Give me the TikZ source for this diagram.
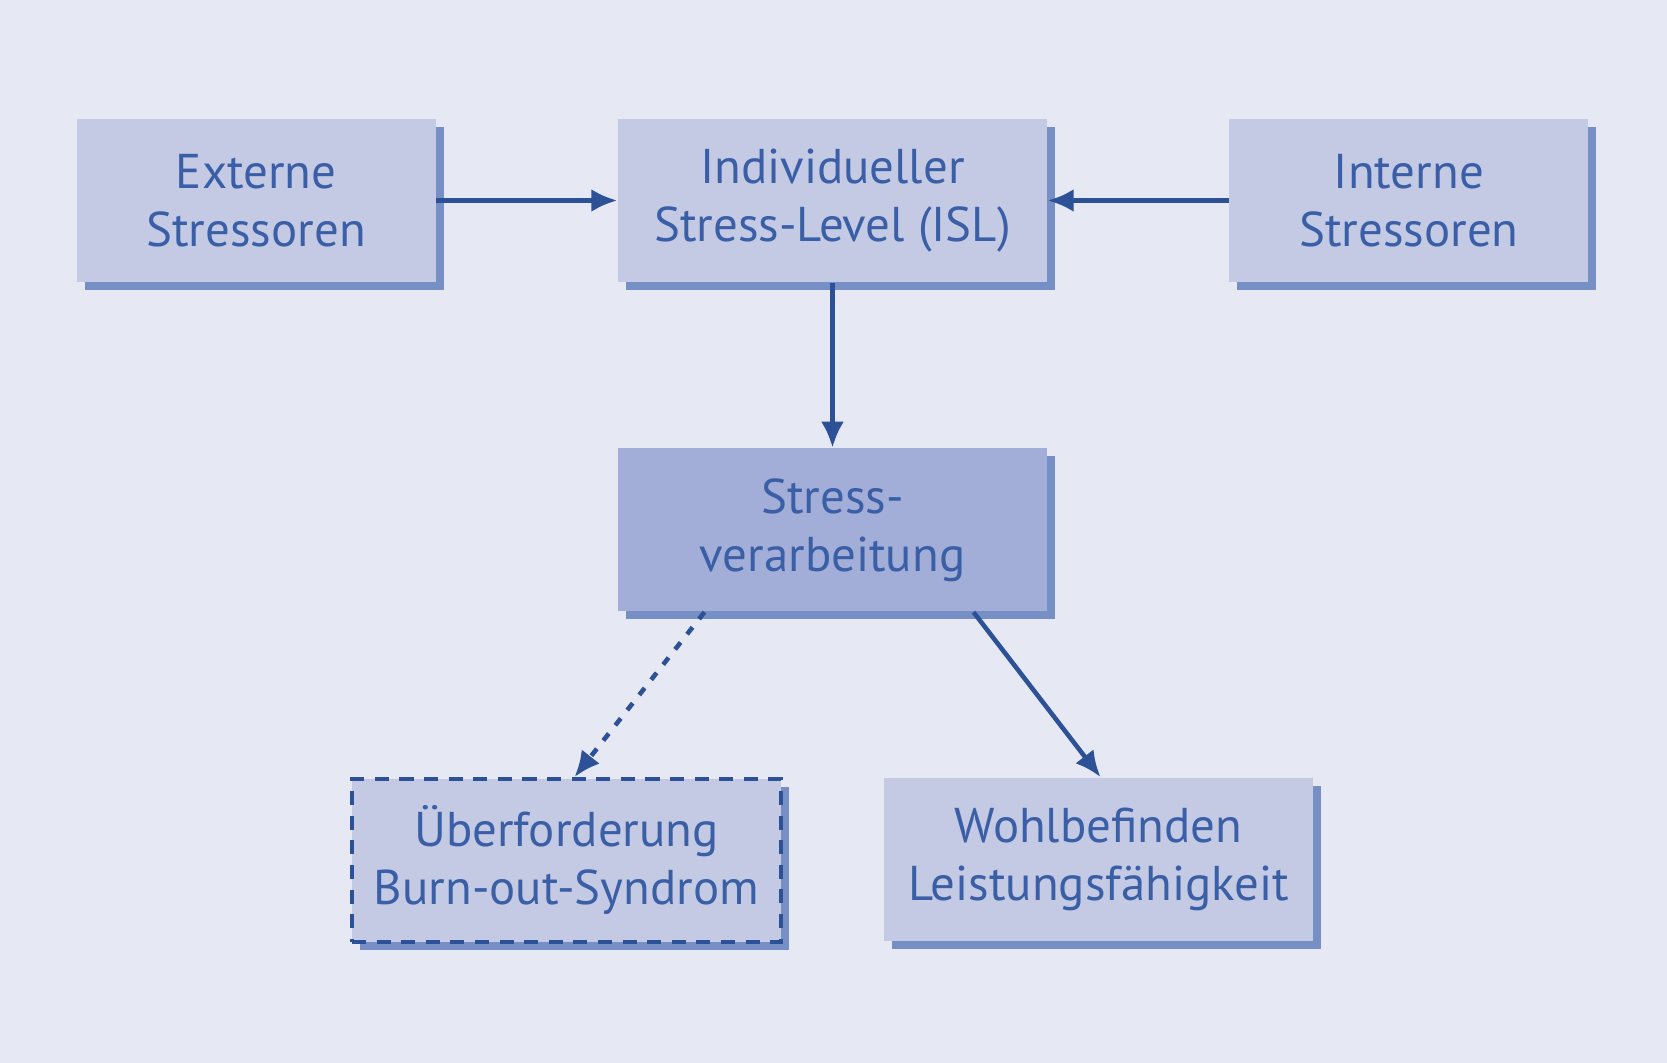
\documentclass[tikz,border=0pt]{standalone}
\usepackage{fontspec}
\setmainfont{PT Sans}
\usepackage{xcolor}
\usetikzlibrary{arrows.meta,positioning,shadows}

\definecolor{bgblue}{HTML}{E6E8F3}
\definecolor{boxblue}{HTML}{C4CAE4}
\definecolor{darkbox}{HTML}{A2AED7}
\definecolor{shadeblue}{HTML}{6A86BF}
\definecolor{inkblue}{HTML}{3A5FA6}
\definecolor{lineblue}{HTML}{2D5197}

\begin{document}
\begin{tikzpicture}[x=1cm,y=1cm,
  node distance=16.5mm and 18.1mm,
  stage/.style={fill=boxblue,minimum width=4.29cm,minimum height=1.63cm,
    align=center,inner sep=0pt,text=inkblue,
    font=\fontsize{13.9pt}{16.5pt}\selectfont,
    drop shadow={shadow xshift=.8mm,shadow yshift=-.8mm,fill=shadeblue,opacity=.9}},
  source/.style={stage,minimum width=3.59cm},
  core/.style={stage,fill=darkbox},
  risk/.style={stage,draw=lineblue,line width=1pt,dash pattern=on 4pt off 3pt},
  link/.style={-{Latex[length=2.6mm,width=2.3mm]},draw=lineblue,line width=1.3pt}]
\fill[bgblue] (0,0) rectangle (16.67,-10.63);
\useasboundingbox (0,0) rectangle (16.67,-10.63);
\node[stage] (isl) at (8.325,-2.005) {Individueller\\Stress-Level (ISL)};
\node[source,left=of isl] (extern) {Externe\\Stressoren};
\node[source,right=of isl] (intern) {Interne\\Stressoren};
\node[core,below=of isl] (coping) {Stress-\\verarbeitung};
\node[risk,below=of coping,xshift=-2.66cm] (burnout) {Überforderung\\Burn-out-Syndrom};
\node[stage,below=of coping,xshift=2.66cm] (wellbeing) {Wohlbefinden\\Leistungsfähigkeit};
\draw[link] (extern)--(isl);
\draw[link] (intern)--(isl);
\draw[link] (isl)--(coping);
\draw[link,dash pattern=on 2.5pt off 3pt] ([xshift=-12.8mm]coping.south)--([xshift=.8mm]burnout.north);
\draw[link] ([xshift=14.1mm]coping.south)--([xshift=.2mm]wellbeing.north);
\end{tikzpicture}
\end{document}
